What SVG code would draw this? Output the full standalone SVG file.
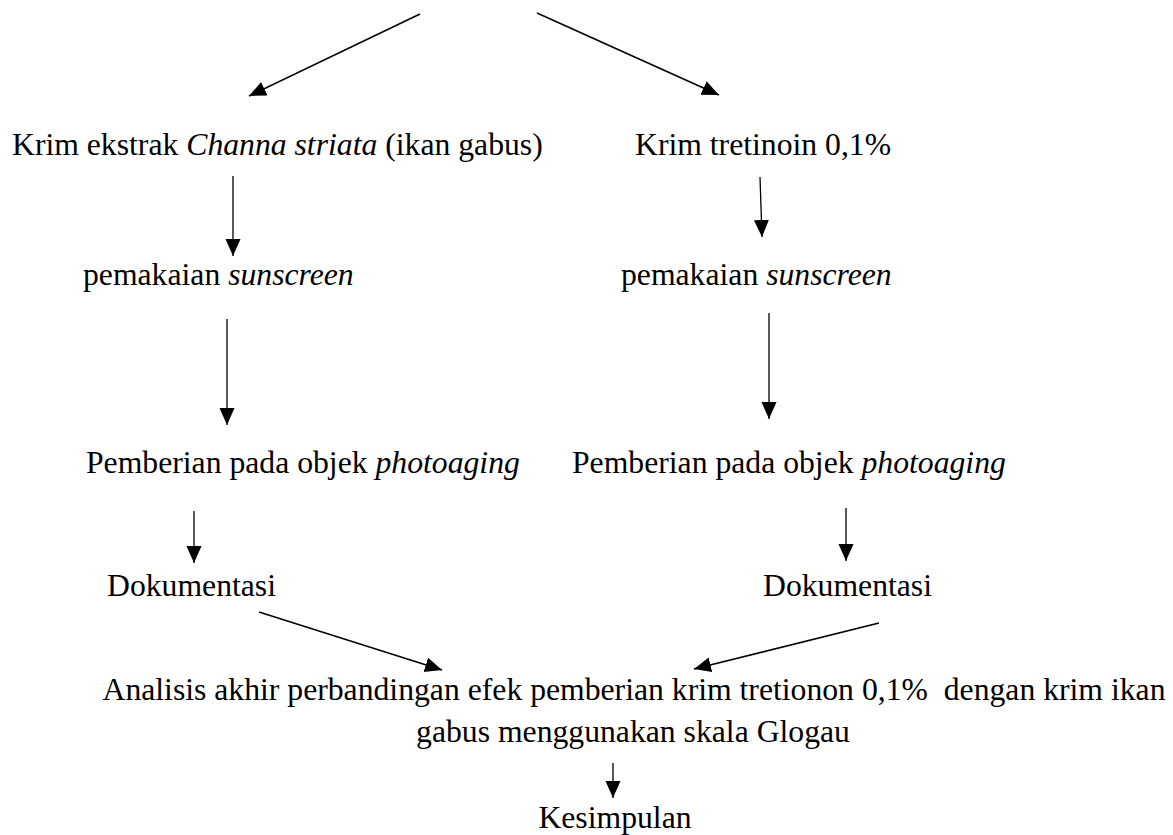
<svg xmlns="http://www.w3.org/2000/svg" width="1173" height="835" viewBox="0 0 1173 835">
<style>
text{font-family:"Liberation Serif","Times New Roman",serif;font-size:31.7px;fill:#000;white-space:pre}
.i{font-style:italic}
.c{stroke:#000;stroke-width:1.6;fill:none}
.v{stroke:#000;stroke-width:1.3;fill:none}
</style>
<defs>
<marker id="ah" markerUnits="userSpaceOnUse" markerWidth="18" markerHeight="16" refX="17" refY="7.5" orient="auto">
<path d="M0,0 L17,7.5 L0,15 z" fill="#000"/>
</marker>
</defs>
<rect width="1173" height="835" fill="#fff"/>
<g id="connectors">
<line class="c" x1="420" y1="14" x2="249" y2="96" marker-end="url(#ah)"/>
<line class="c" x1="537" y1="13" x2="719" y2="95" marker-end="url(#ah)"/>
<line class="v" x1="233" y1="176" x2="233" y2="256" marker-end="url(#ah)"/>
<line class="v" x1="760" y1="177" x2="762" y2="237" marker-end="url(#ah)"/>
<line class="v" x1="227" y1="319" x2="227" y2="425" marker-end="url(#ah)"/>
<line class="v" x1="769" y1="313" x2="769" y2="419" marker-end="url(#ah)"/>
<line class="v" x1="194" y1="511" x2="194" y2="563" marker-end="url(#ah)"/>
<line class="v" x1="846" y1="508" x2="846" y2="561" marker-end="url(#ah)"/>
<line class="c" x1="259" y1="612" x2="442" y2="670" marker-end="url(#ah)"/>
<line class="c" x1="879" y1="623" x2="694" y2="669" marker-end="url(#ah)"/>
<line class="v" x1="613" y1="763" x2="613" y2="798" marker-end="url(#ah)"/>
</g>
<g id="n-krim-ekstrak"><text x="12" y="155">Krim ekstrak <tspan class="i">Channa striata</tspan> (ikan gabus)</text></g>
<g id="n-krim-tretinoin"><text x="635" y="155">Krim tretinoin 0,1%</text></g>
<g id="n-sunscreen-left"><text x="83" y="285">pemakaian <tspan class="i">sunscreen</tspan></text></g>
<g id="n-sunscreen-right"><text x="621" y="285">pemakaian <tspan class="i">sunscreen</tspan></text></g>
<g id="n-pemberian-left"><text x="86" y="473">Pemberian pada objek <tspan class="i">photoaging</tspan></text></g>
<g id="n-pemberian-right"><text x="572" y="473">Pemberian pada objek <tspan class="i">photoaging</tspan></text></g>
<g id="n-dok-left"><text x="107" y="596">Dokumentasi</text></g>
<g id="n-dok-right"><text x="763" y="596">Dokumentasi</text></g>
<g id="n-analisis">
<text x="634" y="700" text-anchor="middle">Analisis akhir perbandingan efek pemberian krim tretionon 0,1%  dengan krim ikan</text>
<text x="633" y="742" text-anchor="middle">gabus menggunakan skala Glogau</text>
</g>
<g id="n-kesimpulan"><text x="615" y="828" text-anchor="middle">Kesimpulan</text></g>
</svg>
